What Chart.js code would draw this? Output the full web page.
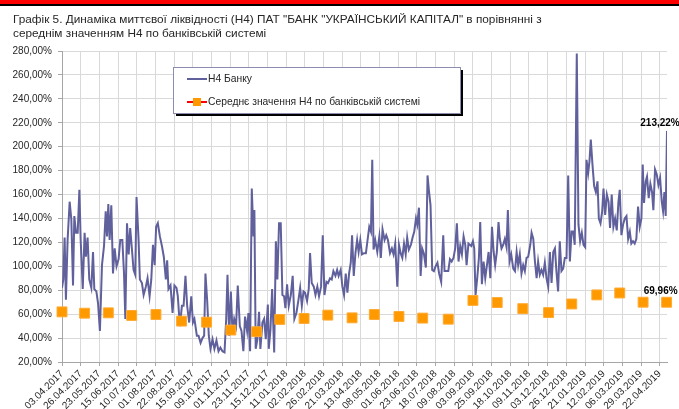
<!DOCTYPE html>
<html>
<head>
<meta charset="utf-8">
<script src="https://cdn.jsdelivr.net/npm/chart.js@4.4.1/dist/chart.umd.min.js"></script>
<style>
  html, body { margin: 0; padding: 0; background: #fff; }
</style>
</head>
<body>
<canvas id="liquidityChart" width="679" height="409"></canvas>
<script>
const TITLE = [
    "Графік 5. Динаміка миттєвої ліквідності (Н4) ПАТ \"БАНК \"УКРАЇНСЬКИЙ КАПІТАЛ\" в порівнянні з",
    "середнім значенням Н4 по банківській системі",
];
const SERIES_NAMES = ["Н4 Банку", "Середнє значення Н4 по банківській системі"];

const tickLabels = [
    "03.04.2017", "26.04.2017", "23.05.2017", "15.06.2017", "10.07.2017", "01.08.2017",
    "22.08.2017", "15.09.2017", "09.10.2017", "01.11.2017", "23.11.2017", "15.12.2017",
    "11.01.2018", "02.02.2018", "26.02.2018", "21.03.2018", "13.04.2018", "08.05.2018",
    "01.06.2018", "23.06.2018", "18.07.2018", "09.08.2018", "03.09.2018", "25.09.2018",
    "18.10.2018", "09.11.2018", "03.12.2018", "26.12.2018", "21.01.2019", "12.02.2019",
    "06.03.2019", "29.03.2019", "22.04.2019",
];

// bank H4, %: position on the date axis (in label steps) and value
const bankT = [
    0.00, 0.07, 0.14, 0.21, 0.30, 0.41, 0.50, 0.59, 0.66, 0.75, 0.84, 0.93, 1.00, 1.11, 1.21, 1.28,
    1.37, 1.46, 1.57, 1.66, 1.73, 1.84, 1.93, 2.03, 2.14, 2.25, 2.34, 2.41, 2.48, 2.55, 2.64, 2.73,
    2.82, 2.92, 3.03, 3.12, 3.23, 3.32, 3.39, 3.48, 3.57, 3.65, 3.74, 3.83, 3.92, 3.99, 4.10, 4.17,
    4.28, 4.37, 4.49, 4.58, 4.69, 4.78, 4.87, 4.96, 5.04, 5.13, 5.24, 5.35, 5.45, 5.56, 5.63, 5.70,
    5.81, 5.92, 6.02, 6.13, 6.20, 6.31, 6.42, 6.51, 6.61, 6.70, 6.81, 6.92, 7.01, 7.09, 7.22, 7.31,
    7.42, 7.52, 7.61, 7.68, 7.77, 7.86, 7.95, 8.06, 8.16, 8.27, 8.38, 8.48, 8.59, 8.70, 8.79, 8.86,
    8.95, 9.04, 9.13, 9.22, 9.32, 9.41, 9.52, 9.61, 9.71, 9.80, 9.91, 9.98, 10.07, 10.16, 10.25, 10.30,
    10.37, 10.46, 10.55, 10.62, 10.73, 10.82, 10.91, 11.02,
    11.07, 11.16, 11.25, 11.36, 11.45, 11.53, 11.62, 11.71, 11.80, 11.89, 11.96, 12.05, 12.14, 12.25, 12.35, 12.44,
    12.55, 12.66, 12.75, 12.84, 12.93, 13.01, 13.12, 13.21, 13.28, 13.37, 13.48, 13.57, 13.67, 13.76, 13.87, 13.96,
    14.05, 14.16, 14.24, 14.35, 14.44, 14.53, 14.64, 14.73, 14.81, 14.92, 15.01, 15.10, 15.19, 15.28, 15.37, 15.46,
    15.53, 15.62, 15.71, 15.80, 15.88, 15.97, 16.06, 16.17, 16.27, 16.36, 16.45, 16.54, 16.61, 16.68, 16.77, 16.88,
    16.99, 17.07, 17.16, 17.27, 17.36, 17.45, 17.56, 17.66, 17.75, 17.84, 17.95, 18.04, 18.13, 18.22, 18.31, 18.40,
    18.48, 18.57, 18.68, 18.77, 18.86, 18.95, 19.02, 19.11, 19.20, 19.28, 19.37, 19.48, 19.57, 19.64, 19.73, 19.82,
    19.91, 20.00, 20.10, 20.19, 20.30, 20.41, 20.48, 20.59, 20.68, 20.77, 20.86, 20.96, 21.05, 21.14, 21.23, 21.32,
    21.41, 21.50, 21.59, 21.66, 21.76, 21.91,
    22.00, 22.07, 22.14, 22.23, 22.32, 22.39, 22.48, 22.57, 22.66, 22.75, 22.84, 22.93, 23.02, 23.11, 23.19, 23.28,
    23.37, 23.44, 23.53, 23.62, 23.71, 23.80, 23.87, 23.96, 24.05, 24.16, 24.25, 24.34, 24.42, 24.51, 24.60, 24.69,
    24.78, 24.87, 24.96, 25.07, 25.14, 25.23, 25.32, 25.41, 25.49, 25.58, 25.67, 25.76, 25.85, 25.94, 26.03, 26.12,
    26.21, 26.30, 26.39, 26.47, 26.56, 26.65, 26.74, 26.83, 26.92, 27.01, 27.10, 27.19, 27.28, 27.37, 27.45, 27.56,
    27.65, 27.74, 27.83, 27.92, 28.01, 28.08, 28.17, 28.24, 28.31, 28.40, 28.49, 28.58, 28.67, 28.74, 28.83, 28.92,
    28.99, 29.08, 29.17, 29.26, 29.34, 29.43, 29.52, 29.61, 29.70, 29.79, 29.86, 29.95, 30.04, 30.13, 30.22, 30.31,
    30.40, 30.48, 30.57, 30.66, 30.75, 30.84, 30.93, 31.02, 31.09, 31.16, 31.25, 31.32, 31.41, 31.50, 31.59, 31.66,
    31.75, 31.84, 31.93, 32.02, 32.11, 32.18, 32.25, 32.32, 32.39,
];
const bankV = [
    82, 89, 124, 72, 122, 154, 139, 84, 142, 128, 128, 164, 122, 81, 128, 108,
    124, 89, 82, 112, 81, 79, 69, 46, 101, 117, 146, 125, 152, 122, 151, 94,
    115, 100, 106, 122, 122, 94, 56, 136, 110, 132, 115, 97, 93, 158, 122, 89,
    86, 76, 83, 90, 75, 89, 118, 101, 133, 136, 125, 117, 108, 89, 105, 81,
    84, 61, 84, 82, 75, 50, 67, 67, 92, 67, 53, 75, 53, 56, 42, 42,
    36, 40, 42, 94, 72, 42, 31, 39, 31, 38, 29, 32, 29, 28, 56, 93,
    42, 79, 44, 56, 50, 84, 50, 46, 29, 58, 46, 61, 29, 165, 125, 147,
    31, 39, 62, 31, 53, 56, 39, 68,
    31, 47, 81, 28, 121, 89, 136, 136, 76, 75, 65, 85, 67, 76, 92, 56,
    61, 72, 82, 67, 79, 78, 71, 81, 111, 86, 83, 76, 83, 75, 83, 126,
    76, 87, 86, 90, 89, 96, 92, 97, 92, 97, 83, 76, 94, 78, 94, 103,
    126, 92, 111, 122, 112, 122, 110, 111, 111, 122, 133, 129, 189, 114, 122, 112,
    125, 107, 131, 122, 126, 122, 111, 115, 110, 119, 83, 118, 111, 107, 119, 110,
    124, 114, 118, 124, 129, 140, 135, 149, 92, 115, 111, 99, 176, 164, 151, 97,
    96, 100, 103, 94, 87, 126, 96, 96, 96, 106, 104, 107, 115, 136, 104, 117,
    110, 125, 118, 101, 119, 117,
    121, 115, 76, 90, 107, 137, 85, 104, 90, 101, 112, 90, 133, 112, 101, 112,
    137, 123, 115, 118, 123, 116, 147, 104, 110, 98, 96, 112, 101, 110, 94, 101,
    96, 107, 108, 118, 128, 123, 104, 90, 104, 93, 97, 93, 103, 90, 83, 112,
    86, 112, 115, 96, 79, 121, 96, 98, 107, 107, 176, 104, 129, 129, 118, 278,
    135, 121, 128, 118, 116, 189, 178, 188, 206, 185, 167, 162, 171, 140, 136, 146,
    165, 143, 160, 154, 132, 160, 133, 140, 130, 154, 164, 126, 135, 140, 142, 123,
    129, 119, 121, 119, 123, 150, 133, 140, 185, 153, 171, 175, 157, 169, 162, 147,
    181, 177, 168, 174, 154, 146, 162, 142, 213.22,
];

// banking system average H4, % (monthly)
const avgT = [
    0.00, 1.21, 2.48, 3.73, 5.03, 6.40, 7.74, 9.04, 10.41, 11.66, 12.96, 14.23, 15.53,
    16.72, 18.04, 19.31, 20.68, 22.00, 23.30, 24.67, 26.05, 27.29, 28.63, 29.86, 31.11, 32.37,
];
const avgV = [
    61.9, 60.8, 61.1, 58.9, 59.7, 54.2, 53.3, 46.7, 45.3, 55.6, 56.4, 59.2, 56.9,
    59.7, 58.1, 56.7, 55.8, 71.5, 69.7, 64.6, 61.3, 68.5, 76.1, 77.7, 70.0, 69.96,
];

const COLORS = {
    bank: "rgb(96, 96, 156)",
    avg: "rgb(255, 153, 0)",
    avgLegendLine: "rgb(255, 0, 0)",
    grid: "#d9d9d9",
    axis: "#a6a6a6",
    text: "#262626",
};
const FONT = '"Liberation Sans", Arial, sans-serif';

const pct = (v) => v.toFixed(2).replace(".", ",") + "%";

// red band, title, legend box and end-of-series labels
const decorPlugin = {
    id: "decor",
    beforeDraw(chart) {
        const { ctx, width } = chart;
        ctx.save();
        ctx.fillStyle = "#fff";
        ctx.fillRect(0, 0, width, chart.height);
        ctx.fillStyle = "#ff0000";
        ctx.fillRect(0, 0, width, 4);
        ctx.fillStyle = "#000";
        ctx.fillRect(0, 4, width, 2);
        ctx.fillStyle = COLORS.text;
        ctx.font = "11.8px " + FONT;
        ctx.textBaseline = "middle";
        ctx.fillText(TITLE[0], 13, 19.5);
        ctx.fillText(TITLE[1], 13, 33.5);
        ctx.restore();
    },
    afterDraw(chart) {
        const { ctx, chartArea } = chart;
        ctx.save();

        // legend
        const lx = chartArea.left + 111, ly = chartArea.top + 16, lw = 287, lh = 46;
        ctx.fillStyle = "#000";
        ctx.fillRect(lx + 3, ly + 3, lw, lh);
        ctx.fillStyle = "#fff";
        ctx.fillRect(lx, ly, lw, lh);
        ctx.strokeStyle = "#8c8cb0";
        ctx.lineWidth = 1;
        ctx.strokeRect(lx + 0.5, ly + 0.5, lw, lh);

        ctx.font = "10.3px " + FONT;
        ctx.textBaseline = "middle";
        const rows = [ly + 12, ly + 35];
        ctx.lineWidth = 2;
        ctx.strokeStyle = COLORS.bank;
        ctx.beginPath();
        ctx.moveTo(lx + 14, rows[0]);
        ctx.lineTo(lx + 34, rows[0]);
        ctx.stroke();
        ctx.strokeStyle = COLORS.avgLegendLine;
        ctx.beginPath();
        ctx.moveTo(lx + 14, rows[1]);
        ctx.lineTo(lx + 34, rows[1]);
        ctx.stroke();
        ctx.fillStyle = COLORS.avg;
        ctx.fillRect(lx + 20, rows[1] - 4, 8, 8);
        ctx.fillStyle = COLORS.text;
        ctx.fillText(SERIES_NAMES[0], lx + 35, rows[0]);
        ctx.fillText(SERIES_NAMES[1], lx + 35, rows[1]);

        // last value labels
        ctx.font = "bold 10px " + FONT;
        ctx.fillStyle = "#000";
        ctx.textAlign = "center";
        const lastBank = chart.getDatasetMeta(0).data.at(-1);
        const lastAvg = chart.getDatasetMeta(1).data.at(-1);
        ctx.fillText(pct(bankV.at(-1)), lastBank.x - 7, lastBank.y - 8);
        ctx.fillText(pct(avgV.at(-1)), lastAvg.x - 6, lastAvg.y - 11);
        ctx.restore();
    },
};

const config = {
    type: "line",
    data: {
        datasets: [
            {
                label: SERIES_NAMES[0],
                data: bankT.map((t, i) => ({ x: t, y: bankV[i] })),
                borderColor: COLORS.bank,
                borderWidth: 2,
                pointRadius: 0,
                tension: 0,
                order: 1,
            },
            {
                label: SERIES_NAMES[1],
                data: avgT.map((t, i) => ({ x: t, y: avgV[i] })),
                showLine: false,
                pointStyle: "rect",
                pointRadius: 7,
                backgroundColor: COLORS.avg,
                borderColor: "rgb(255, 170, 50)",
                borderWidth: 1,
                clip: false,
                order: 0,
            },
        ],
    },
    options: {
        responsive: false,
        animation: false,
        layout: { padding: { top: 51, right: 12, left: 0, bottom: 0 } },
        plugins: {
            legend: { display: false },
            tooltip: { enabled: false },
        },
        scales: {
            x: {
                type: "linear",
                min: 0,
                max: bankT.at(-1),
                afterBuildTicks: (scale) => {
                    scale.ticks = tickLabels.map((_, i) => ({ value: i }));
                },
                afterFit: (scale) => {
                    scale.height = 47;
                },
                ticks: {
                    autoSkip: false,
                    includeBounds: false,
                    maxRotation: 45,
                    minRotation: 45,
                    padding: 2,
                    color: COLORS.text,
                    font: { family: FONT, size: 10 },
                    callback: (v) => tickLabels[v] ?? "",
                },
                grid: { color: COLORS.grid, tickColor: COLORS.axis, tickLength: 4 },
                border: { color: COLORS.axis },
            },
            y: {
                min: 20,
                max: 280,
                afterFit: (scale) => {
                    scale.width = 62;
                },
                ticks: {
                    stepSize: 20,
                    padding: 6,
                    color: COLORS.text,
                    font: { family: FONT, size: 10 },
                    callback: (v) => pct(v),
                },
                grid: { color: COLORS.grid, tickColor: COLORS.axis, tickLength: 4 },
                border: { color: COLORS.axis },
            },
        },
    },
    plugins: [decorPlugin],
};

new Chart(document.getElementById("liquidityChart"), config);
</script>
</body>
</html>
